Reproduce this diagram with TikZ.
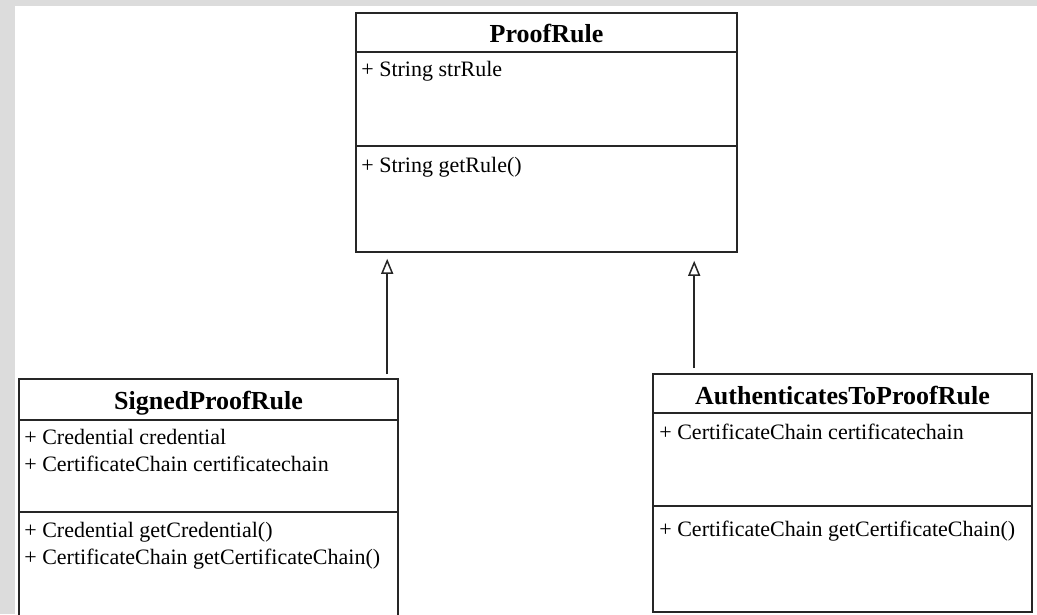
\documentclass[tikz,border=0pt]{standalone}
\usepackage{fontspec}
\setmainfont{Liberation Serif}
\usetikzlibrary{arrows.meta,positioning}
\definecolor{framegray}{RGB}{220,220,220}

\begin{document}
\begin{tikzpicture}[x=1pt,y=-1pt,
    classbox/.style={draw=black!85, line width=1.6pt, fill=white, inner sep=0pt},
    divider/.style={draw=black!85, line width=1.6pt},
    classname/.style={font=\fontsize{26}{30}\selectfont\bfseries, anchor=base, inner sep=0pt},
    member/.style={font=\fontsize{22}{26}\selectfont, anchor=base west, inner sep=0pt},
    inherits/.style={draw=black!85, line width=1.8pt,
      -{Triangle[open, length=15pt, width=12pt, line width=1.5pt]}}]
  % Background frame
  \fill[framegray] (0,0) rectangle (1037,614);
  \fill[white] (15,6) rectangle (1037,614);
  \useasboundingbox (0,0) rectangle (1037,614);
  \clip (0,0) rectangle (1037,614);
  % Class boxes
  \node[classbox, minimum width=381pt, minimum height=239pt] (proofrule) at (546.5,132.5) {};
  \node[classbox, minimum width=379pt, minimum height=262pt] (signed) at (208.5,510) {};
  \node[classbox, minimum width=379pt, minimum height=238pt] (authto) at (842.5,493) {};
  % Compartment lines
  \foreach \cls/\h in {proofrule/40, proofrule/134, signed/42, signed/134, authto/40, authto/133}
    \draw[divider] ([yshift=-\h pt]\cls.north west) -- ([yshift=-\h pt]\cls.north east);
  % Class names
  \node[classname] (proofrule-name) at ([yshift=-30pt]proofrule.north) {ProofRule};
  \node[classname] (signed-name) at ([yshift=-31pt]signed.north) {SignedProofRule};
  \node[classname] (authto-name) at ([yshift=-31pt]authto.north) {AuthenticatesToProofRule};
  % Members of ProofRule
  \node[member] (proofrule-attr) at ([xshift=6pt, yshift=-64pt]proofrule.north west) {+ String strRule};
  \node[member] (proofrule-op) at ([xshift=6pt, yshift=-160pt]proofrule.north west) {+ String getRule()};
  % Members of SignedProofRule
  \node[member] (signed-attr1) at ([xshift=6pt, yshift=-66pt]signed.north west) {+ Credential credential};
  \node[member] (signed-attr2) at ([xshift=6pt, yshift=-93pt]signed.north west) {+ CertificateChain certificatechain};
  \node[member] (signed-op1) at ([xshift=6pt, yshift=-159pt]signed.north west) {+ Credential getCredential()};
  \node[member] (signed-op2) at ([xshift=6pt, yshift=-186pt]signed.north west) {+ CertificateChain getCertificateChain()};
  % Members of AuthenticatesToProofRule
  \node[member] (authto-attr) at ([xshift=7pt, yshift=-66pt]authto.north west) {+ CertificateChain certificatechain};
  \node[member] (authto-op) at ([xshift=7pt, yshift=-163pt]authto.north west) {+ CertificateChain getCertificateChain()};
  % Generalisations
  \draw[inherits] ([xshift=369pt, yshift=4pt]signed.north west) -- ([xshift=32pt, yshift=-6pt]proofrule.south west);
  \draw[inherits] ([xshift=42pt, yshift=5pt]authto.north west) -- ([xshift=339pt, yshift=-8pt]proofrule.south west);
\end{tikzpicture}
\end{document}
